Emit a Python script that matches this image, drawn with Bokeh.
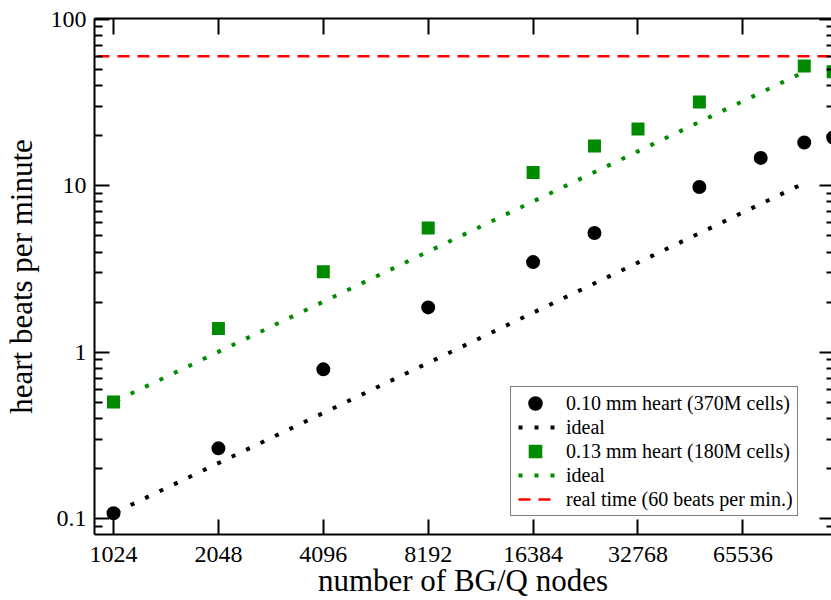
from bokeh.plotting import figure
from bokeh.models import (Range1d, LogAxis, FixedTicker, CustomJSTickFormatter,
                          Legend, LegendItem)
from bokeh.embed import file_html
from bokeh.resources import INLINE

# ---------------- data ----------------
x_ticks = [1024, 2048, 4096, 8192, 16384, 32768, 65536]
x_tick_labels = ["1024", "2048", "4096", "8192", "16384", "32768", "65536"]
y_ticks = [0.1, 1, 10, 100]
y_tick_labels = ["0.1", "1", "10", "100"]
y_minor_ticks = [m * 10.0 ** k for k in range(-2, 3) for m in range(2, 10)]

# 0.10 mm heart (370M cells)
fine_nodes = [1024, 2048, 4096, 8192, 16384, 24576, 49152, 73728, 98304, 119000]
fine_bpm = [0.108, 0.265, 0.79, 1.86, 3.48, 5.2, 9.83, 14.7, 18.2, 19.5]

# 0.13 mm heart (180M cells)
coarse_nodes = [1024, 2048, 4096, 8192, 16384, 24576, 32768, 49152, 98304, 119000]
coarse_bpm = [0.503, 1.39, 3.05, 5.57, 12.0, 17.3, 21.9, 31.8, 52.4, 48.3]

# ideal scaling lines
ideal_nodes = [1024, 98304]
fine_ideal = [0.108, 10.37]
coarse_ideal = [0.503, 48.3]

# real time
realtime_bpm = 60

X_MIN, X_MAX = 903, 117700
Y_MIN, Y_MAX = 0.0805, 101

SERIF = "Liberation Serif"
GREEN = "#008b00"

p = figure(width=831, height=600, x_axis_type="log", y_axis_type="log",
           x_range=Range1d(X_MIN, X_MAX), y_range=Range1d(Y_MIN, Y_MAX),
           output_backend="svg", toolbar_location=None,
           min_border_left=92, min_border_right=0, min_border_top=18,
           min_border_bottom=63, background_fill_color="white",
           border_fill_color="white")
p.outline_line_color = None
p.xgrid.grid_line_color = None
p.ygrid.grid_line_color = None

FMT_CODE = """
for (let i = 0; i < tvals.length; i++) {
  if (Math.abs(tvals[i] - tick) < 1e-6 * tvals[i]) return tlabels[i];
}
return '';"""
xfmt = CustomJSTickFormatter(args=dict(tvals=x_ticks, tlabels=x_tick_labels), code=FMT_CODE)
yfmt = CustomJSTickFormatter(args=dict(tvals=y_ticks, tlabels=y_tick_labels), code=FMT_CODE)


def style(ax, tick_in, minor_in, show_labels=True, line=True):
    ax.axis_line_color = "black" if line else None
    ax.axis_line_width = 2
    ax.major_tick_line_color = "black"
    ax.major_tick_line_width = 2
    ax.minor_tick_line_color = "black"
    ax.minor_tick_line_width = 2
    ax.major_tick_in = tick_in
    ax.major_tick_out = 0
    ax.minor_tick_in = minor_in
    ax.minor_tick_out = 0
    ax.major_label_text_font = SERIF
    ax.major_label_text_color = "black"
    if show_labels:
        ax.major_label_text_font_size = "24px"
    else:
        ax.major_label_text_font_size = "0px"
        ax.major_label_text_alpha = 0
        ax.major_label_standoff = 0


xb = p.below[0]
xb.ticker = FixedTicker(ticks=x_ticks)
xb.formatter = xfmt
style(xb, 15, 0)
xb.major_label_standoff = 12
xb.axis_label = "number of BG/Q nodes"
xb.axis_label_text_font = SERIF
xb.axis_label_text_font_size = "31px"
xb.axis_label_text_font_style = "normal"
xb.axis_label_text_color = "black"
xb.axis_label_standoff = -2

yl = p.left[0]
yl.ticker = FixedTicker(ticks=y_ticks, minor_ticks=y_minor_ticks)
yl.formatter = yfmt
style(yl, 15, 8)
yl.major_label_standoff = 8
yl.axis_label = "heart beats per minute"
yl.axis_label_text_font = SERIF
yl.axis_label_text_font_size = "31px"
yl.axis_label_text_font_style = "normal"
yl.axis_label_text_color = "black"
yl.axis_label_standoff = 9

xt = LogAxis(ticker=FixedTicker(ticks=x_ticks), formatter=xfmt)
style(xt, 16, 0, show_labels=False)
p.add_layout(xt, "above")

yr = LogAxis(ticker=FixedTicker(ticks=y_ticks, minor_ticks=y_minor_ticks), formatter=yfmt)
style(yr, 12, 5, show_labels=False, line=False)
p.add_layout(yr, "right")

# ---------------- glyphs ----------------
r_rt = p.line([X_MIN, X_MAX], [realtime_bpm, realtime_bpm], line_color="#ff0000",
              line_width=2.5, line_dash="12 8", line_dash_offset=17)
r_fi = p.line(ideal_nodes, fine_ideal, line_color="black", line_width=4,
              line_dash="4 12", line_dash_offset=13, line_cap="butt")
r_ci = p.line(ideal_nodes, coarse_ideal, line_color=GREEN, line_width=4,
              line_dash="4 12", line_dash_offset=13, line_cap="butt")
r_f = p.scatter(fine_nodes, fine_bpm, marker="circle", size=9, line_width=5,
                fill_color="black", line_color="black")
r_c = p.scatter(coarse_nodes, coarse_bpm, marker="square", size=9, line_width=4,
                line_join="miter", fill_color=GREEN, line_color=GREEN)

legend = Legend(items=[
    LegendItem(label="0.10 mm heart (370M cells)", renderers=[r_f]),
    LegendItem(label="ideal", renderers=[r_fi]),
    LegendItem(label="0.13 mm heart (180M cells)", renderers=[r_c]),
    LegendItem(label="ideal", renderers=[r_ci]),
    LegendItem(label="real time (60 beats per min.)", renderers=[r_rt]),
], location=(416, 18), margin=0, padding=4, spacing=0,
    glyph_width=40, glyph_height=24, label_height=24, label_standoff=11,
    label_text_font=SERIF, label_text_font_size="20px", label_text_color="black",
    border_line_color="black", border_line_width=1,
    background_fill_color="white", background_fill_alpha=1)
p.add_layout(legend, "center")

open("out.html", "w").write(file_html(p, INLINE))
